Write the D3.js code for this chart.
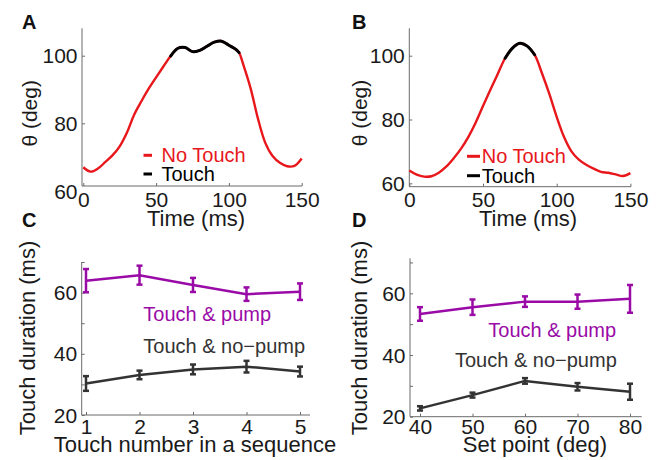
<!DOCTYPE html>
<html><head><meta charset="utf-8">
<script src="https://cdn.jsdelivr.net/npm/d3@7"></script>
<style>
body{margin:0;background:#fff}
svg{display:block}
text{font-family:"Liberation Sans",Arial,Helvetica,sans-serif}
</style>
</head><body>
<svg id="chart" width="658" height="460"></svg>
<script>
// ---------- DATA ----------
const timeA = [0,5,10,15,20,25,30,35,40,45,50,55,60,65,70,75,80,85,90,95,100,105,107,110,115,120,125,130,135,140,145,150];
const thetaA = [67.0,65.7,66.6,68.5,70.5,73.2,77.3,82.6,86.6,90.3,93.6,96.8,99.9,102.2,102.4,101.2,101.6,102.8,104.0,104.3,103.1,101.8,100.9,97.2,90.2,81.3,74.2,70.3,68.3,67.3,67.4,69.6];
const touchWindowA = [60, 107];

const timeB = [0,5,10,15,20,25,30,35,40,45,50,55,60,65,70,75,80,85,90,95,100,105,110,115,120,125,130,135,140,145,150];
const thetaB = [64.0,62.7,62.1,62.2,63.3,65.2,67.8,70.8,74.5,79.0,84.2,89.3,94.3,99.2,102.4,103.9,103.0,100.3,94.5,88.0,80.8,74.5,70.0,67.4,65.8,64.6,63.6,63.3,62.8,62.3,63.2];
const touchWindowB = [65, 85];

const touchNumber = [1,2,3,4,5];
const pumpC = [63.9,65.7,62.5,59.5,60.3];
const pumpErrC = [3.8,3.1,2.3,2.2,2.7];
const noPumpC = [30.3,33.1,34.9,35.8,34.2];
const noPumpErrC = [2.4,1.4,1.6,1.9,1.6];

const setPoint = [40,50,60,70,80];
const pumpD = [53.3,55.5,57.3,57.3,58.2];
const pumpErrD = [2.2,2.5,1.7,2.3,4.5];
const noPumpD = [22.7,27.0,31.6,29.7,28.1];
const noPumpErrD = [0.7,0.8,0.9,1.2,2.6];

const ticksTime = [0,50,100,150];
const ticksTheta = [60,80,100];
const ticksDuration = [20,30,40,50,60,70];
const labelsDuration = [20,40,60];

// ---------- STYLE ----------
const RED = "#e8171c", PURPLE = "#990aa6", DARK = "#333333", AXIS = "#6b6b6b", TXT = "#1a1a1a";
const svg = d3.select("#chart");

function drawAxes(p) {
  const g = svg.append("g");
  g.append("path")
    .attr("d", `M${p.x0},${p.yTop}V${p.y0}H${p.x1}`)
    .attr("fill","none").attr("stroke",AXIS).attr("stroke-width",1);
  const xa = g.append("g").attr("transform",`translate(0,${p.y0})`)
    .call(d3.axisBottom(p.x).tickValues(p.xTicks).tickSize(-3).tickPadding(p.xPad).tickFormat(p.xFmt || (d=>d)));
  const ya = g.append("g").attr("transform",`translate(${p.x0},0)`)
    .call(d3.axisLeft(p.y).tickValues(p.yTicks).tickSize(-3).tickPadding(4.5).tickFormat(p.yFmt || (d=>d)));
  [xa, ya].forEach(a => {
    a.select(".domain").remove();
    a.selectAll("line").attr("stroke",AXIS);
    a.selectAll("text").attr("font-size",21).attr("fill",TXT)
      .attr("font-family",'"Liberation Sans",Arial,sans-serif');
  });
  ya.selectAll(".tick").filter(d => p.y(d) > p.y0 + 0.5).select("line").remove();
  ya.selectAll("text").attr("dy","0.34em");
  g.append("text").attr("x",p.xlx).attr("y",p.xly).attr("text-anchor","middle")
    .attr("font-size",22).attr("fill",TXT).text(p.xlabel);
  g.append("text").attr("transform",`translate(${p.ylx},${p.yly}) rotate(-90)`)
    .attr("text-anchor","middle").attr("font-size",p.ylSize).attr("fill",TXT).text(p.ylabel);
  g.append("text").attr("x",p.lx).attr("y",p.ly).attr("font-size",20).attr("font-weight","bold")
    .attr("fill","#111").text(p.letter);
}

function drawTrace(p, times, vals, win) {
  const pts = times.map((t,i)=>[t,vals[i]]);
  const line = d3.line().x(d=>p.x(d[0])).y(d=>p.y(d[1])).curve(d3.curveCatmullRom);
  svg.append("path").attr("d",line(pts)).attr("fill","none").attr("stroke",RED).attr("stroke-width",2.4);
  const seg = pts.filter(d=>d[0]>=win[0] && d[0]<=win[1]);
  svg.append("path").attr("d",line(seg)).attr("fill","none").attr("stroke","#000").attr("stroke-width",3)
    .attr("stroke-linecap","round");
}

function drawLegend(p, dx0, dx1, tx, y1, y2) {
  svg.append("line").attr("x1",dx0).attr("x2",dx1).attr("y1",y1-7).attr("y2",y1-7).attr("stroke",RED).attr("stroke-width",3);
  svg.append("text").attr("x",tx).attr("y",y1).attr("font-size",20).attr("fill",RED).text("No Touch");
  svg.append("line").attr("x1",dx0).attr("x2",dx1).attr("y1",y2-7).attr("y2",y2-7).attr("stroke","#000").attr("stroke-width",3);
  svg.append("text").attr("x",tx).attr("y",y2).attr("font-size",20).attr("fill","#000").text("Touch");
}

function drawSeries(p, xs, vals, errs, color) {
  const line = d3.line().x((d,i)=>p.x(xs[i])).y(d=>p.y(d));
  svg.append("path").attr("d",line(vals)).attr("fill","none").attr("stroke",color).attr("stroke-width",2.5);
  const g = svg.append("g").attr("stroke",color).attr("stroke-width",2.5);
  vals.forEach((v,i)=>{
    const cx = p.x(xs[i]), t = p.y(v+errs[i]), b = p.y(v-errs[i]);
    g.append("line").attr("x1",cx).attr("x2",cx).attr("y1",t).attr("y2",b);
    g.append("line").attr("x1",cx-3).attr("x2",cx+3).attr("y1",t).attr("y2",t);
    g.append("line").attr("x1",cx-3).attr("x2",cx+3).attr("y1",b).attr("y2",b);
  });
}

// ---------- PANEL A ----------
const pA = {
  x: d3.scaleLinear().domain([0,150]).range([83.3,301.7]),
  y: d3.scaleLinear().domain([60,100]).range([190.9,55.7]),
  x0:82, x1:302, y0:186, yTop:28.3, xTicks:ticksTime, yTicks:ticksTheta, xPad:6,
  xlabel:"Time (ms)", xlx:196, xly:226, ylabel:"θ (deg)", ylx:36.5, yly:113.3, ylSize:21,
  letter:"A", lx:22, ly:28.5
};
drawAxes(pA);
drawTrace(pA, timeA, thetaA, touchWindowA);
drawLegend(pA, 143.5, 152, 161.5, 162.3, 181);

// ---------- PANEL B ----------
const pB = {
  x: d3.scaleLinear().domain([0,150]).range([409.3,630.4]),
  y: d3.scaleLinear().domain([60,100]).range([183.3,55.7]),
  x0:409.3, x1:631, y0:186.7, yTop:28.3, xTicks:ticksTime, yTicks:ticksTheta, xPad:5,
  xlabel:"Time (ms)", xlx:528, xly:226, ylabel:"θ (deg)", ylx:367, yly:113, ylSize:21,
  letter:"B", lx:352, ly:28.5
};
drawAxes(pB);
drawTrace(pB, timeB, thetaB, touchWindowB);
drawLegend(pB, 467, 480, 481.7, 163.3, 182.7);

// ---------- PANEL C ----------
const pC = {
  x: d3.scaleLinear().domain([1,5]).range([86,300]),
  y: d3.scaleLinear().domain([20,70]).range([415,262]),
  x0:81.7, x1:310, y0:415, yTop:262, xTicks:touchNumber, yTicks:ticksDuration, xPad:4,
  yFmt: d => labelsDuration.includes(d) ? d : "",
  xlabel:"Touch number in a sequence", xlx:195, xly:452, ylabel:"Touch duration (ms)", ylx:34.7, yly:338, ylSize:22,
  letter:"C", lx:22, ly:227
};
drawAxes(pC);
drawSeries(pC, touchNumber, pumpC, pumpErrC, PURPLE);
drawSeries(pC, touchNumber, noPumpC, noPumpErrC, DARK);
svg.append("text").attr("x",143.3).attr("y",320.7).attr("font-size",20).attr("fill",PURPLE).text("Touch & pump");
svg.append("text").attr("x",143.3).attr("y",353.3).attr("font-size",20).attr("fill",DARK).text("Touch & no\u2212pump");

// ---------- PANEL D ----------
const pD = {
  x: d3.scaleLinear().domain([40,80]).range([420,630]),
  y: d3.scaleLinear().domain([20,60]).range([416.7,293.3]),
  x0:410, x1:641.7, y0:416.7, yTop:258.3, xTicks:setPoint, yTicks:ticksDuration, xPad:2.5,
  yFmt: d => labelsDuration.includes(d) ? d : "",
  xlabel:"Set point (deg)", xlx:535, xly:452, ylabel:"Touch duration (ms)", ylx:366.7, yly:338, ylSize:22,
  letter:"D", lx:352, ly:227
};
drawAxes(pD);
drawSeries(pD, setPoint, pumpD, pumpErrD, PURPLE);
drawSeries(pD, setPoint, noPumpD, noPumpErrD, DARK);
svg.append("text").attr("x",488.3).attr("y",337.3).attr("font-size",20).attr("fill",PURPLE).text("Touch & pump");
svg.append("text").attr("x",455).attr("y",366.7).attr("font-size",20).attr("fill",DARK).text("Touch & no\u2212pump");
</script>
</body></html>
